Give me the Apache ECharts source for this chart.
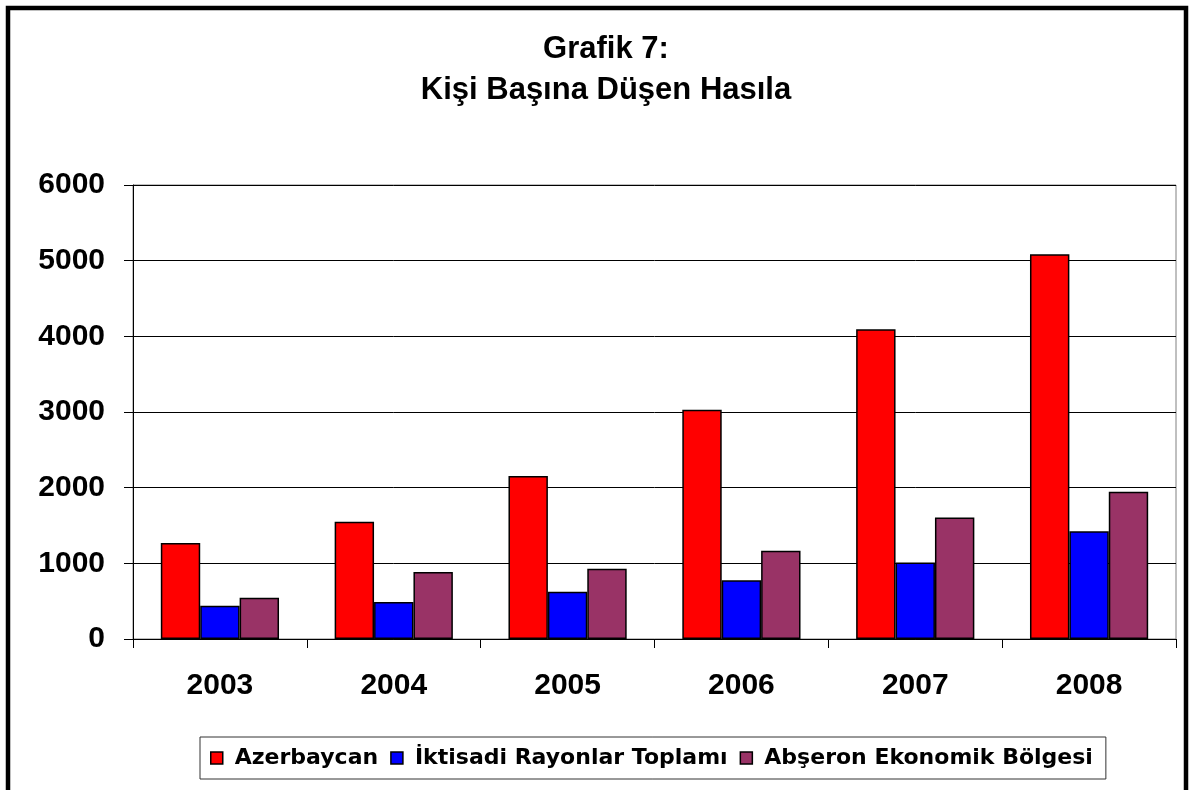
<!DOCTYPE html>
<html>
<head>
<meta charset="utf-8">
<script src="https://cdn.jsdelivr.net/npm/echarts@6/dist/echarts.min.js"></script>
<style>
html,body{margin:0;padding:0;background:#fff;}
#c{width:1192px;height:790px;}
</style>
</head>
<body>
<div id="c"></div>
<script>
const categories = ['2003','2004','2005','2006','2007','2008'];
const seriesNames = ['Azerbaycan','İktisadi Rayonlar Toplamı','Abşeron Ekonomik Bölgesi'];
const azerbaycan = [1270, 1550, 2155, 3030, 4095, 5085];
const iktisadi = [440, 490, 625, 775, 1010, 1425];
const abseron = [545, 885, 930, 1165, 1605, 1945];
const yTicks = [0, 1000, 2000, 3000, 4000, 5000, 6000];
const colors = ['#FF0000', '#0000FF', '#993366'];

const font = '"Liberation Sans", Arial, sans-serif';
const legendFont = '"DejaVu Sans", sans-serif';
const chart = echarts.init(document.getElementById('c'), null, {renderer: 'canvas'});
const dataSets = [azerbaycan, iktisadi, abseron];
chart.setOption({
  animation: false,
  backgroundColor: '#fff',
  title: {
    text: 'Grafik 7:\nKişi Başına Düşen Hasıla',
    left: 606, top: 29, textAlign: 'center', padding: 0,
    textStyle: {fontFamily: font, fontSize: 31, fontWeight: 'bold', color: '#000', lineHeight: 41}
  },
  legend: {
    data: seriesNames,
    left: 200, top: 737,
    padding: [10, 13, 10, 10],
    borderColor: '#333', borderWidth: 1,
    itemWidth: 12, itemHeight: 12, itemGap: 12,
    icon: 'rect',
    textStyle: {fontFamily: legendFont, fontSize: 22, fontWeight: 'bold', color: '#000', padding: [0, 0, 0, 7]},
    itemStyle: {borderColor: '#000', borderWidth: 1.5}
  },
  grid: {
    left: 133, right: 16, top: 185, bottom: 151,
    show: true, borderColor: '#808080', borderWidth: 1, backgroundColor: 'transparent'
  },
  xAxis: {
    type: 'category', data: categories,
    axisLine: {lineStyle: {color: '#000', width: 1}},
    axisTick: {show: true, length: 9, lineStyle: {color: '#000'}},
    axisLabel: {fontFamily: font, fontSize: 30, fontWeight: 'bold', color: '#000', margin: 32}
  },
  yAxis: {
    type: 'value', min: 0, max: 6000, interval: 1000,
    axisLine: {show: true, lineStyle: {color: '#000', width: 1}},
    axisTick: {show: true, length: 9, lineStyle: {color: '#000'}},
    splitLine: {lineStyle: {color: '#000', width: 1}},
    axisLabel: {fontFamily: font, fontSize: 30, fontWeight: 'bold', color: '#000', margin: 28,
      formatter: v => yTicks.includes(v) ? String(v) : ''}
  },
  series: seriesNames.map((n, i) => ({
    name: n, type: 'bar', data: dataSets[i],
    barGap: '0%', barCategoryGap: '32%',
    itemStyle: {color: colors[i], borderColor: '#000', borderWidth: 1.5}
  })),
  graphic: [{
    type: 'rect', shape: {x: 8, y: 8, width: 1178, height: 800},
    style: {fill: 'none', stroke: '#000', lineWidth: 4.5}, z: 100
  }]
});
</script>
</body>
</html>
